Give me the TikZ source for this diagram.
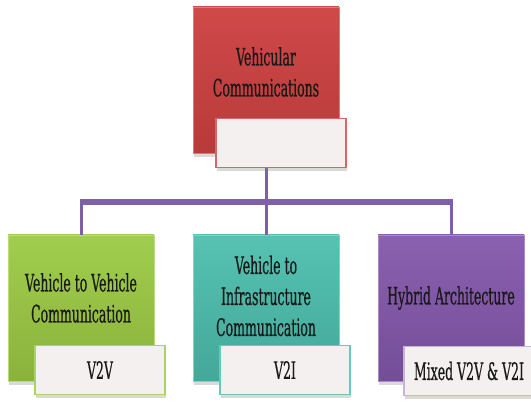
\documentclass[tikz,border=0pt]{standalone}
\usepackage{fontspec}
\setmainfont{DejaVu Serif}[FakeStretch=0.52,FakeBold=0.5]
\usetikzlibrary{calc,shadows}
\definecolor{vcred}{HTML}{CD4040}
\definecolor{vcgreen}{HTML}{9CCB44}
\definecolor{vcteal}{HTML}{4DBFAE}
\definecolor{vcpurple}{HTML}{8458AC}
\definecolor{vclink}{HTML}{7E60A8}
\definecolor{vcpaper}{HTML}{F3F0EF}

\begin{document}
\begin{tikzpicture}[x=1pt,y=-1pt,
  box/.style={minimum width=146pt,minimum height=146pt,inner sep=0pt,
    drop shadow={shadow xshift=1pt,shadow yshift=-4pt,opacity=.3}},
  tag/.style={minimum width=130pt,minimum height=49pt,inner sep=0pt,fill=vcpaper,line width=1.4pt,
    font=\fontsize{24}{31}\selectfont,text=black!90,
    drop shadow={shadow xshift=1pt,shadow yshift=-4pt,opacity=.3}},
  words/.style={align=center,font=\fontsize{24}{31}\selectfont,text=black!90},
  link/.style={vclink,line width=3pt}]
\useasboundingbox (0,0) rectangle (531,403);
% the four coloured boxes
\node[box,top color=vcred!95!white,bottom color=vcred!90!black,draw=vcred!70!white] (vc) at (266,80) {};
\node[box,top color=vcgreen!95!white,bottom color=vcgreen!88!black,draw=vcgreen!70!white] (vv) at (81,308) {};
\node[box,top color=vcteal!95!white,bottom color=vcteal!88!black,draw=vcteal!70!white] (vi) at (266,308) {};
\node[box,top color=vcpurple!95!white,bottom color=vcpurple!88!black,draw=vcpurple!70!white] (hy) at (451,308) {};
\node[words] (vctext) at ($(vc)+(0,-8)$) {Vehicular\\Communications};
\node[words] (vvtext) at ($(vv)+(0,-10)$) {Vehicle to Vehicle\\Communication};
\node[words] (vitext) at ($(vi)+(0,-12)$) {Vehicle to\\Infrastructure\\Communication};
\node[words] (hytext) at ($(hy)+(0,-10)$) {Hybrid Architecture};
% tree lines
\coordinate (bus) at (266,202);
\draw[link] (vc.south) -- (bus);
\draw[link] (vi.north) -- (bus);
\draw[link] (vv.north) -- (vv.north |- bus);
\draw[link] (hy.north) -- (hy.north |- bus);
\draw[vclink,line width=6pt] ($(vv.north |- bus)+(-1.5,0)$) -- ($(hy.north |- bus)+(1.5,0)$);
% white tags
\node[tag,draw=vcred!80] (vctag) at ($(vc)+(15,63)$) {};
\node[tag,draw=vcgreen!85!white] (vvtag) at ($(vv)+(19,62)$) {V2V};
\node[tag,draw=vcteal!85!white] (vitag) at ($(vi)+(19,62)$) {V2I};
\node[tag,draw=vcpurple!45!white] (hytag) at ($(hy)+(18,63)$) {Mixed V2V \& V2I};
\end{tikzpicture}
\end{document}
